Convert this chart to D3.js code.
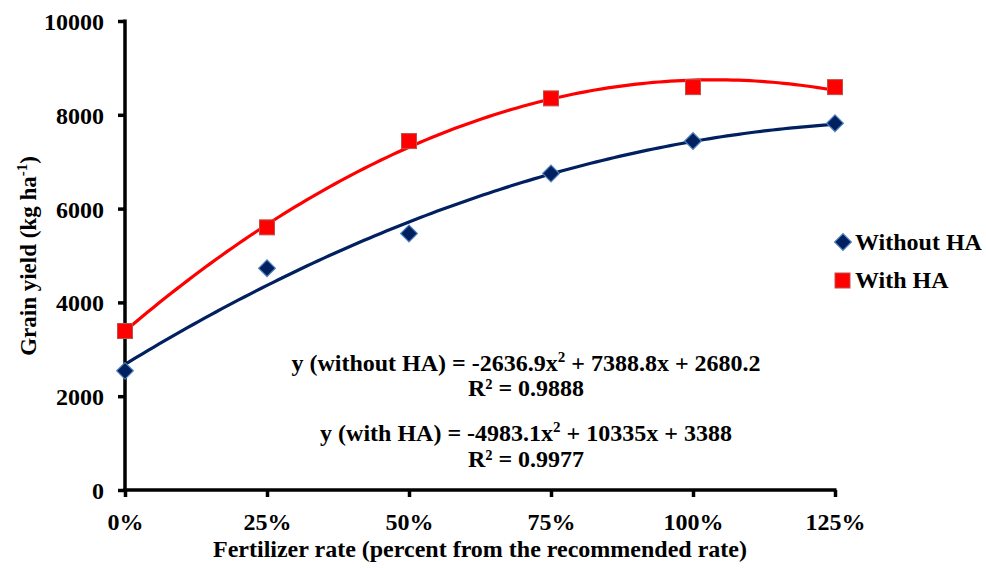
<!DOCTYPE html>
<html><head><meta charset="utf-8">
<script src="https://cdn.jsdelivr.net/npm/d3@7"></script>
<style>body{margin:0;background:#fff}svg{display:block}text{font-family:"Liberation Serif","Times New Roman",serif;font-weight:bold;fill:#000}</style>
</head><body><svg id="c" width="986" height="568"></svg>
<script>
const categories = ["0%","25%","50%","75%","100%","125%"];
const rates = [0, 0.25, 0.5, 0.75, 1.0, 1.25];
const withoutHA = [2540, 4730, 5470, 6750, 7440, 7820];
const withHA = [3390, 5600, 7440, 8350, 8590, 8590];
const coefWithout = [-2636.9, 7388.8, 2680.2];
const coefWith = [-4983.1, 10335, 3388];
const yTicks = [0, 2000, 4000, 6000, 8000, 10000];
const eqLines = [
  {t:["y (without HA) = -2636.9x","2"," + 7388.8x + 2680.2"]},
  {t:["R² = 0.9888"]},
  {t:["y (with HA) = -4983.1x","2"," + 10335x + 3388"]},
  {t:["R² = 0.9977"]}
];

const svg = d3.select("#c");
const x = d3.scaleLinear().domain([0, 1.25]).range([125, 835]);
const y = d3.scaleLinear().domain([0, 10000]).range([490, 21]);

// trend lines
const fine = d3.range(0, 1.2501, 0.01);
function curve(c, color){
  svg.append("path")
    .datum(fine)
    .attr("fill","none").attr("stroke",color).attr("stroke-width",3.2)
    .attr("d", d3.line().x(d=>x(d)).y(d=>y(c[0]*d*d + c[1]*d + c[2])));
}
curve(coefWithout, "#002060");
curve(coefWith, "#ff0000");

// axes
const yAxis = d3.axisLeft(y).tickValues(yTicks).tickSize(7).tickSizeOuter(0).tickFormat(d3.format("d"));
const gy = svg.append("g").attr("transform","translate(125,0)").call(yAxis);
const xAxis = d3.axisBottom(x).tickValues(rates).tickSize(7).tickSizeOuter(0).tickFormat((d,i)=>categories[i]);
const gx = svg.append("g").attr("transform","translate(0,490)").call(xAxis);
[gy,gx].forEach(g=>{
  g.select(".domain").attr("stroke","#000").attr("stroke-width",3.5);
  g.selectAll(".tick line").attr("stroke","#000").attr("stroke-width",3.5);
  g.selectAll(".tick text").style("font-family",'"Liberation Serif","Times New Roman",serif').style("font-weight","bold").style("font-size","24px").attr("fill","#000");
});
gy.selectAll(".tick text").attr("x",-21).attr("dy","0.35em");
gx.selectAll(".tick text").attr("y",40).attr("dy","0");
gy.select(".domain").attr("d","M0,"+(y(10000)-1.5)+"V"+(y(0)+1.8));
gx.select(".domain").attr("d","M"+(x(0)-1.8)+",0H"+(x(1.25)+1.5));

// markers
const diamond = d3.symbol().type(d3.symbolSquare).size(140);
svg.append("g").selectAll("path").data(withoutHA).join("path")
  .attr("d", diamond)
  .attr("transform",(d,i)=>`translate(${x(rates[i])},${y(d)}) rotate(45)`)
  .attr("fill","#002060").attr("stroke","#4f81bd").attr("stroke-width",1.2);
svg.append("g").selectAll("rect").data(withHA).join("rect")
  .attr("x",(d,i)=>x(rates[i])-7.5).attr("y",d=>y(d)-7.5).attr("width",15).attr("height",15)
  .attr("fill","#ff0000").attr("stroke","#c0504d").attr("stroke-width",1);

// axis titles
svg.append("text").attr("x",480).attr("y",557).attr("text-anchor","middle").style("font-size","24px")
  .text("Fertilizer rate (percent from the recommended rate)");
const yt = svg.append("text").attr("transform","translate(36,256) rotate(-90)").attr("text-anchor","middle").style("font-size","23px");
yt.append("tspan").text("Grain yield (kg ha");
yt.append("tspan").attr("dy",-9).style("font-size","15px").text("-1");
yt.append("tspan").attr("dy",9).text(")");

// equations
const eqY = [371, 396, 441, 467];
eqLines.forEach((l,i)=>{
  const t = svg.append("text").attr("x",526).attr("y",eqY[i]).attr("text-anchor","middle").style("font-size","24px");
  if(l.t.length===1){ t.text(l.t[0]); }
  else {
    t.append("tspan").text(l.t[0]);
    t.append("tspan").attr("dy",-9).style("font-size","15px").text(l.t[1]);
    t.append("tspan").attr("dy",9).text(l.t[2]);
  }
});

// legend
const lg = svg.append("g");
lg.append("path").attr("d", diamond).attr("transform","translate(843,242) rotate(45)")
  .attr("fill","#002060").attr("stroke","#4f81bd").attr("stroke-width",1.2);
lg.append("rect").attr("x",835).attr("y",273).attr("width",15).attr("height",15)
  .attr("fill","#ff0000").attr("stroke","#c0504d").attr("stroke-width",1);
lg.append("text").attr("x",855).attr("y",250).style("font-size","24px").text("Without HA");
lg.append("text").attr("x",855).attr("y",288).style("font-size","24px").text("With HA");
</script></body></html>
